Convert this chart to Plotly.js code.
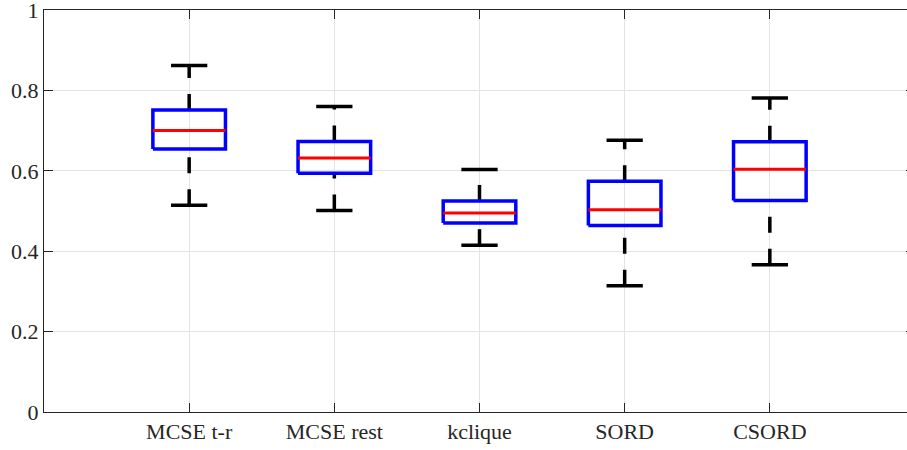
<!DOCTYPE html>
<html>
<head>
<meta charset="utf-8">
<script src="https://cdn.plot.ly/plotly-3.0.1.min.js"></script>
<style>
html, body { margin: 0; padding: 0; overflow: hidden; background: #fff; }
#chart { width: 920px; height: 450px; }
</style>
</head>
<body>
<div id="chart"></div>
<script>
// ---- data ----
var categories = ["MCSE t-r", "MCSE rest", "kclique", "SORD", "CSORD"];
var whiskerLow  = [0.514, 0.501, 0.415, 0.314, 0.366];
var q1          = [0.654, 0.594, 0.470, 0.464, 0.526];
var medians     = [0.700, 0.632, 0.495, 0.503, 0.604];
var q3          = [0.751, 0.673, 0.525, 0.574, 0.672];
var whiskerHigh = [0.862, 0.760, 0.603, 0.676, 0.781];
var positions   = [1, 2, 3, 4, 5];
var yTicks      = [0, 0.2, 0.4, 0.6, 0.8, 1];

var boxHalf = 0.25, capHalf = 0.125;

var bx = [], by = [], mx = [], my = [], wx = [], wy = [], cx = [], cy = [];
for (var i = 0; i < categories.length; i++) {
  var p = positions[i];
  // box outline
  bx.push(p - boxHalf, p + boxHalf, p + boxHalf, p - boxHalf, p - boxHalf, null);
  by.push(q1[i], q1[i], q3[i], q3[i], q1[i], null);
  // median
  mx.push(p - boxHalf, p + boxHalf, null);
  my.push(medians[i], medians[i], null);
  // whiskers (upper drawn from box outward, lower from cap inward)
  wx.push(p, p, null, p, p, null);
  wy.push(q3[i], whiskerHigh[i], null, whiskerLow[i], q1[i], null);
  // caps
  cx.push(p - capHalf, p + capHalf, null, p - capHalf, p + capHalf, null);
  cy.push(whiskerHigh[i], whiskerHigh[i], null, whiskerLow[i], whiskerLow[i], null);
}

var traces = [
  { x: wx, y: wy, mode: 'lines', line: { color: '#000', width: 3.5, dash: '16px,16px' }, hoverinfo: 'skip' },
  { x: cx, y: cy, mode: 'lines', line: { color: '#000', width: 3.5 }, hoverinfo: 'skip' },
  { x: bx, y: by, mode: 'lines', line: { color: '#0000ff', width: 3.5 }, hoverinfo: 'skip' },
  { x: mx, y: my, mode: 'lines', line: { color: '#ff0000', width: 3 }, hoverinfo: 'skip' }
];

var axisCommon = {
  showline: true, linecolor: '#262626', linewidth: 1,
  mirror: 'allticks', ticks: 'inside', ticklen: 9, tickwidth: 1, tickcolor: '#262626',
  showgrid: true, gridcolor: '#e3e3e3', gridwidth: 1, zeroline: false,
  ticklabeloverflow: 'allow',
  tickfont: { family: 'Liberation Serif, Times New Roman, serif', size: 22, color: '#262626' }
};

var layout = {
  width: 920, height: 450,
  margin: { l: 44, r: 5, t: 10, b: 38 },
  paper_bgcolor: '#fff', plot_bgcolor: '#fff',
  showlegend: false,
  xaxis: Object.assign({}, axisCommon, {
    range: [0, 6], tickmode: 'array', tickvals: positions, ticktext: categories
  }),
  yaxis: Object.assign({}, axisCommon, {
    range: [0, 1], tickmode: 'array', tickvals: yTicks,
    ticktext: yTicks.map(function (v) { return String(v); })
  })
};

Plotly.newPlot('chart', traces, layout, { staticPlot: true, displayModeBar: false });
</script>
</body>
</html>
